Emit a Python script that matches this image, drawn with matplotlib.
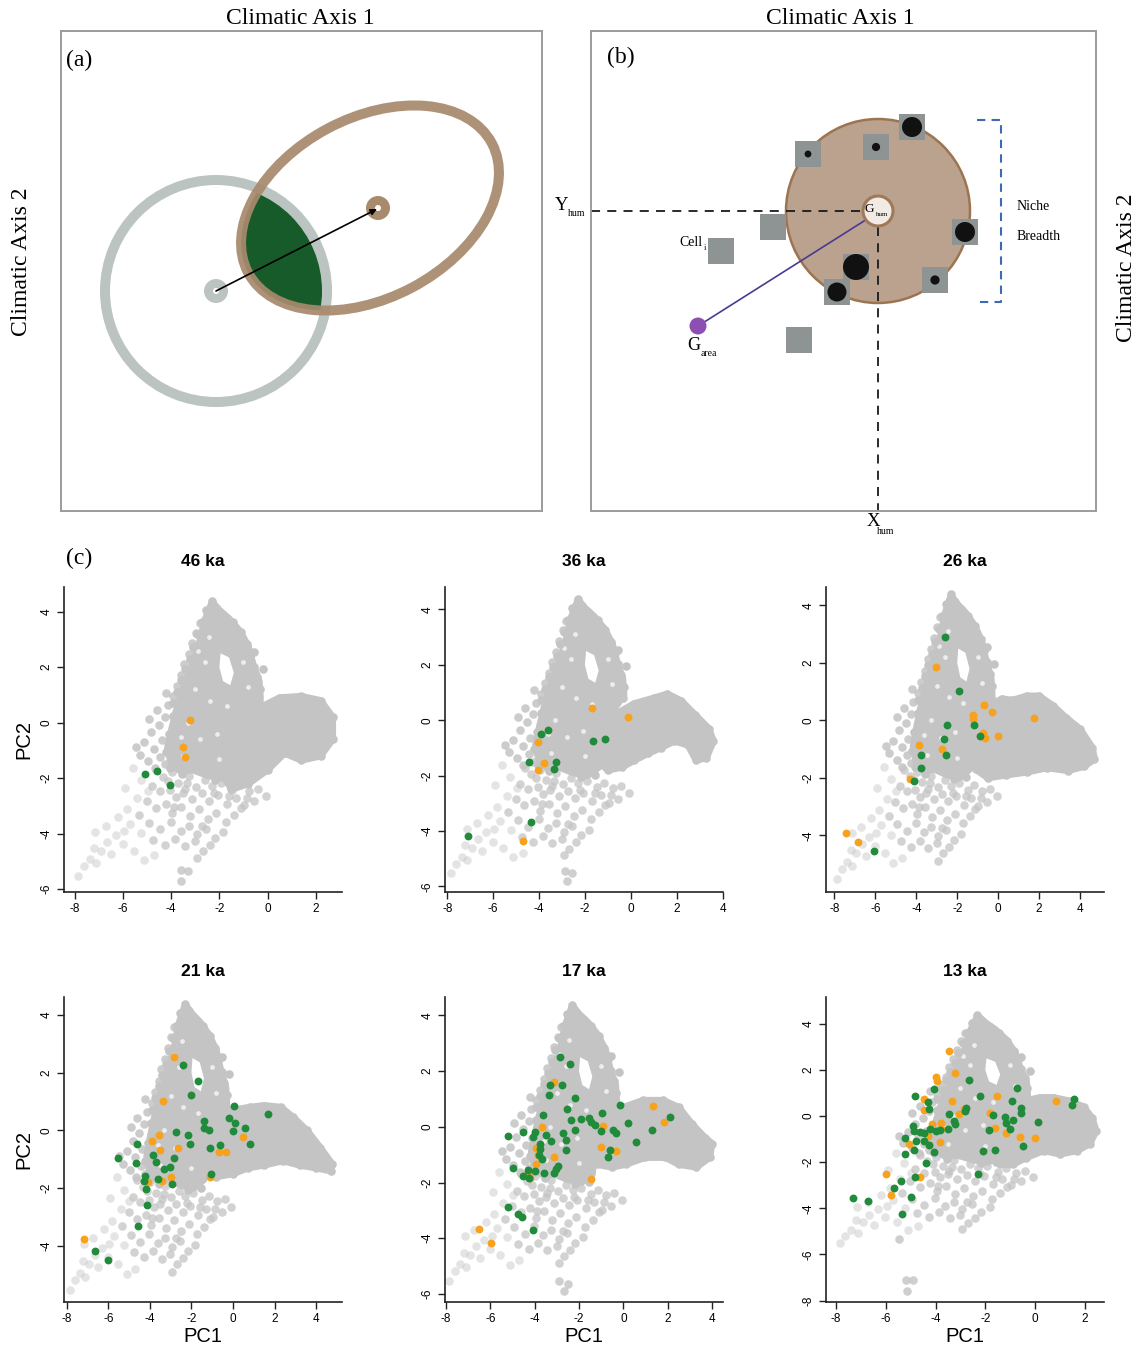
import matplotlib.pyplot as plt
from matplotlib.patches import Circle, Ellipse, Rectangle

plt.rcParams['font.family'] = ['Liberation Sans', 'DejaVu Sans']
plt.rcParams['axes.unicode_minus'] = False

W, H = 1144, 1345  # figure size in pixels

# ---------------- panel (c) data ----------------
titles = ['46 ka', '36 ka', '26 ka', '21 ka', '17 ka', '13 ka']

# dense part of the climate space shared by all slices (upper lobe + centre)
core_outline = [(-2.3, 4.35), (-2.0, 4.05), (-1.6, 3.75), (-1.15, 3.3), (-0.8, 2.75),
                (-0.6, 2.1), (-0.35, 1.5), (-0.3, 0.9), (-0.7, 0.45), (-1.1, -0.1),
                (-1.3, -0.9), (-1.4, -1.7), (-1.9, -2.0), (-2.5, -1.9), (-3.1, -1.7),
                (-3.6, -1.75), (-4.0, -1.5), (-4.15, -0.9), (-4.0, -0.3), (-3.8, 0.4),
                (-3.55, 1.1), (-3.2, 1.9), (-2.85, 2.8), (-2.6, 3.7)]
core_hole = [(-1.95, 2.5), (-1.6, 2.35), (-1.4, 1.8), (-1.55, 1.35), (-1.85, 1.5),
             (-2.0, 2.0)]
# small voids inside the dense part
core_voids = [(-2.45, 3.1), (-2.6, 2.2), (-3.0, 1.2), (-2.4, 0.8), (-3.3, 0.0),
              (-2.8, -0.6), (-3.5, -1.2), (-1.0, 2.2), (-2.0, -1.3), (-0.8, 1.3),
              (-2.1, -0.4), (-1.7, 0.6), (-2.9, 2.6), (-3.6, -0.5)]

# cells on the ragged border of the dense part
edge_cells = [(-2.32, 4.38), (-2.55, 4.05), (-2.12, 4.12), (-1.83, 3.86), (-2.74, 3.62),
              (-1.45, 3.62), (-2.91, 3.18), (-1.12, 3.27), (-3.08, 2.74), (-0.86, 2.84),
              (-3.22, 2.31), (-0.71, 2.42), (-3.41, 1.93), (-0.55, 2.02), (-3.58, 1.55),
              (-0.42, 1.63), (-3.74, 1.12), (-0.31, 1.21), (-3.92, 0.72), (-0.35, 0.82),
              (-0.2, 1.95), (-0.55, 2.55), (-1.95, 3.05), (-1.7, 2.75), (-1.35, 2.55),
              (-2.2, 2.7), (-1.2, 1.25), (-2.18, -2.05), (-1.55, -1.98), (-3.55, -1.85),
              (-4.05, -1.62), (-4.22, -1.05), (-4.1, -0.42), (-3.93, 0.25)]

# cells left of the dense part
mid_cells = [(-4.45, -1.22), (-4.71, -0.93), (-4.38, -0.64), (-4.83, -0.35), (-4.52, -0.08),
             (-4.27, 0.21), (-4.61, 0.44), (-4.15, 0.63), (-3.92, 0.95), (-4.22, 1.08),
             (-3.76, 1.33), (-3.58, 1.71), (-3.45, 2.12), (-3.28, 2.47), (-3.14, 2.86),
             (-2.97, 3.24), (-2.82, 3.58), (-5.12, -0.71), (-5.31, -1.15), (-4.96, -1.38),
             (-5.48, -0.88), (-4.93, 0.12), (-4.25, -1.49), (-4.68, -1.62)]

# sparser cells below the dense part
low_cells = [(-4.62, -1.71), (-4.33, -1.95), (-3.98, -1.78), (-3.71, -2.16), (-3.27, -1.92),
             (-2.96, -2.31), (-2.61, -2.08), (-2.29, -2.27), (-1.93, -2.18), (-1.47, -2.41),
             (-1.16, -2.26), (-0.78, -2.45), (-0.41, -2.38), (-0.08, -2.63), (-4.81, -2.29),
             (-4.47, -2.47), (-4.04, -2.41), (-3.82, -2.66), (-3.44, -2.38), (-3.12, -2.74),
             (-2.74, -2.55), (-2.43, -2.81), (-2.07, -2.62), (-1.69, -2.93), (-1.31, -2.71),
             (-0.97, -2.98), (-0.55, -2.83), (-5.02, -2.83), (-4.64, -3.06), (-4.21, -2.92),
             (-3.95, -3.27), (-3.58, -3.02), (-3.22, -3.36), (-2.86, -3.11), (-2.49, -3.47),
             (-2.13, -3.24), (-1.74, -3.58), (-1.39, -3.33), (-5.35, -3.32), (-4.93, -3.61),
             (-4.46, -3.84), (-4.02, -3.57), (-3.61, -3.89), (-3.26, -3.71), (-2.92, -4.02),
             (-2.55, -3.82), (-2.18, -4.16), (-1.83, -3.95), (-4.76, -4.21), (-4.27, -4.39),
             (-3.84, -4.18), (-3.43, -4.44), (-3.01, -4.27), (-2.68, -4.63), (-2.41, -4.41),
             (-2.92, -4.88), (-3.33, -2.19), (-2.21, -2.52), (-1.58, -2.64), (-0.86, -2.71),
             (-4.12, -2.09), (-3.51, -2.53), (-2.72, -3.73), (-3.88, -3.02), (-1.12, -3.07)]

# lower-left tail
tail_cells = [(-5.72, -3.65), (-5.24, -3.97), (-5.95, -3.92), (-6.31, -4.05), (-6.02, -4.38),
              (-6.66, -4.29), (-6.93, -4.61), (-7.21, -4.52), (-7.38, -4.92), (-7.62, -5.18),
              (-7.85, -5.52), (-7.12, -5.05), (-6.48, -4.72), (-5.55, -4.61), (-5.12, -4.95),
              (-4.71, -4.78), (-6.21, -3.41), (-6.72, -3.72), (-7.15, -3.93), (-5.84, -3.12),
              (-5.41, -2.72), (-4.98, -2.45), (-5.6, -1.62), (-5.9, -2.35), (-5.25, -2.05)]

# dense right-hand lobe of the cloud (outline) for each time slice
lobe_46 = [(-2.2, 0.3), (-1.2, 0.5), (-0.3, 0.55), (0.5, 0.9), (1.4, 0.95), (2.2, 0.8),
           (2.7, 0.2), (2.7, -0.6), (2.2, -1.2), (1.4, -1.35), (0.7, -1.1), (0.0, -1.7),
           (-0.8, -2.2), (-1.5, -2.4), (-1.9, -1.8), (-2.2, -1.0)]
lobe_36 = [(-0.7, 0.2), (0.15, 0.6), (1.0, 0.8), (1.6, 0.95), (2.2, 0.7), (2.8, 0.2),
           (3.4, -0.3), (3.6, -0.75), (3.3, -1.35), (2.85, -1.45), (2.5, -0.9), (1.9, -0.75),
           (1.3, -1.0), (0.75, -1.2), (0.15, -1.45), (-0.4, -1.7), (-1.0, -1.8), (-1.6, -1.35),
           (-1.9, -0.75), (-1.6, -0.25)]
lobe_26 = [(-0.4, 0.55), (0.2, 0.75), (0.7, 0.7), (1.4, 0.85), (2.0, 0.85), (2.7, 0.5),
           (3.3, 0.1), (4.0, -0.3), (4.6, -0.95), (4.7, -1.35), (4.2, -1.6), (3.4, -1.75),
           (2.4, -1.65), (1.4, -1.8), (0.4, -1.9), (-0.5, -2.0), (-1.1, -1.7), (-1.4, -1.0),
           (-1.3, -0.4), (-0.9, 0.0)]
lobe_21 = [(-0.8, 0.45), (0.0, 0.7), (0.8, 0.8), (1.5, 0.86), (2.3, 0.8), (2.9, 0.45),
           (3.55, 0.0), (4.2, -0.6), (4.75, -1.15), (4.7, -1.4), (4.0, -1.3), (3.2, -1.2),
           (2.4, -1.05), (1.5, -1.2), (0.7, -1.3), (0.0, -1.5), (-0.8, -1.6), (-1.6, -1.4),
           (-1.9, -0.7), (-1.6, 0.0)]
lobe_17 = [(-0.8, 0.35), (0.0, 0.7), (0.9, 0.95), (1.8, 0.95), (2.5, 0.7), (3.1, 0.1),
           (3.7, -0.4), (4.0, -0.6), (3.9, -1.1), (3.3, -1.45), (2.5, -1.35), (1.9, -1.1),
           (1.0, -1.1), (0.1, -1.35), (-0.5, -1.45), (-1.2, -1.35), (-1.65, -0.85), (-1.5, -0.15)]
lobe_13 = [(-1.15, 0.4), (-0.45, 0.65), (0.2, 0.8), (0.75, 0.8), (1.4, 0.65), (1.95, 0.4),
           (2.3, -0.1), (2.45, -0.65), (2.2, -1.2), (1.7, -1.5), (1.0, -1.65), (0.35, -1.5),
           (-0.35, -1.8), (-0.9, -2.1), (-1.4, -2.1), (-1.8, -1.5), (-1.95, -0.65), (-1.65, 0.1)]

# isolated background cells
extra_46 = [(-3.6, -5.3), (-3.3, -5.35), (-3.6, -5.7)]
extra_36 = [(-2.85, -5.45), (-2.55, -5.5), (-2.8, -5.8)]
extra_26 = []
extra_21 = []
extra_17 = [(-2.9, -5.55), (-2.5, -5.65), (-2.7, -5.9)]
extra_13 = [(-5.2, -7.1), (-4.9, -7.1), (-5.15, -7.6), (-5.45, -5.35)]

# occurrence points
orange_46 = [(-3.21, 0.08), (-3.52, -0.87), (-3.41, -1.22)]
green_46 = [(-5.10, -1.84), (-4.60, -1.75), (-4.07, -2.25)]

orange_36 = [(-1.71, 0.45), (-0.13, 0.10), (-4.05, -0.79), (-3.79, -1.55), (-4.04, -1.81),
             (-4.71, -4.37)]
green_36 = [(-3.90, -0.48), (-3.60, -0.37), (-1.64, -0.76), (-1.13, -0.66), (-4.44, -1.50),
            (-3.27, -1.49), (-3.33, -1.75), (-4.33, -3.66), (-7.09, -4.17)]

orange_26 = [(-3.04, 1.84), (-0.69, 0.55), (-0.30, 0.30), (-1.25, 0.20), (-1.22, 0.05),
             (1.75, 0.07), (0.0, -0.54), (-0.66, -0.63), (-0.72, -0.45), (-3.89, -0.85),
             (-2.75, -1.0), (-4.31, -2.03), (-7.41, -3.91), (-6.83, -4.23)]
green_26 = [(-2.60, 2.89), (-1.90, 1.02), (-1.17, -0.16), (-2.50, -0.16), (-2.65, -0.64),
            (-0.91, -0.56), (-2.57, -1.21), (-3.78, -1.21), (-3.79, -1.65), (-4.13, -2.12),
            (-6.07, -4.53)]

orange_21 = [(-2.84, 2.55), (-3.35, 1.03), (-3.56, -0.16), (-3.90, -0.37), (-3.49, -0.69),
             (-2.66, -0.60), (-0.69, -0.73), (-0.32, -0.74), (0.48, -0.24), (-1.10, -1.60),
             (-2.98, -1.61), (-3.40, -1.75), (-4.07, -1.77), (-7.17, -3.74)]
green_21 = [(-2.42, 2.25), (-1.70, 1.72), (-2.03, 1.23), (0.04, 0.86), (1.67, 0.56),
            (-0.21, 0.43), (0.08, 0.25), (-1.39, 0.32), (-1.39, 0.08), (-1.18, 0.0),
            (-0.01, -0.02), (0.58, 0.09), (0.81, -0.46), (-0.62, -0.50), (-1.09, -0.61),
            (-2.76, -0.06), (-2.18, -0.15), (-2.07, -0.48), (-4.63, -0.46), (-5.53, -0.95),
            (-4.68, -1.11), (-3.86, -0.84), (-3.72, -1.09), (-2.82, -0.95), (-3.32, -1.34),
            (-3.03, -1.27), (-4.23, -1.56), (-4.30, -1.74), (-3.59, -1.67), (-2.93, -1.84),
            (-4.20, -2.01), (-1.07, -1.50), (-4.15, -2.57), (-4.55, -3.29), (-6.62, -4.18),
            (-5.99, -4.49)]

orange_17 = [(-3.13, 1.60), (-3.67, 0.0), (1.36, 0.74), (1.84, 0.17), (-0.92, 0.04),
             (-3.96, -0.75), (-3.84, -1.0), (-3.15, -1.09), (-3.93, -1.35), (-4.32, -1.65),
             (-4.21, -1.84), (-1.01, -0.73), (-0.35, -0.88), (-1.48, -1.86), (-6.53, -3.66),
             (-5.96, -4.16)]
green_17 = [(-2.85, 2.52), (-2.40, 2.25), (-3.31, 1.49), (-2.79, 1.51), (-3.36, 1.14),
            (-2.16, 1.04), (-0.14, 0.78), (-0.97, 0.51), (-2.56, 0.65), (-3.61, 0.41),
            (-2.34, 0.25), (-1.93, 0.29), (-1.56, 0.32), (-1.44, 0.17), (-1.28, 0.05),
            (-1.0, -0.14), (-2.20, -0.13), (0.19, 0.12), (-0.46, -0.11), (-0.31, -0.22),
            (1.31, -0.10), (2.10, 0.36), (0.56, -0.54), (-5.19, -0.33), (-4.54, -0.17),
            (-3.97, -0.19), (-4.09, -0.38), (-3.49, -0.31), (-3.28, -0.51), (-3.76, -0.61),
            (-3.76, -0.81), (-3.79, -1.03), (-3.67, -1.14), (-2.71, -0.24), (-2.61, -0.48),
            (-2.58, -0.84), (-0.58, -0.85), (-0.70, -1.08), (-4.98, -1.47), (-4.29, -1.55),
            (-3.97, -1.57), (-4.51, -1.77), (-4.27, -1.83), (-3.57, -1.65), (-3.13, -1.65),
            (-3.04, -1.51), (-2.97, -1.39), (-5.22, -2.88), (-4.74, -3.12), (-4.56, -3.25),
            (-4.09, -3.70)]

orange_13 = [(-3.46, 2.80), (-3.20, 1.85), (-3.99, 1.71), (-3.92, 1.52), (-1.54, 0.85),
             (0.84, 0.64), (-3.33, 0.66), (-4.45, 0.74), (-4.45, 0.27), (-2.86, 0.30),
             (-3.05, 0.09), (-1.81, 0.13), (-4.15, -0.36), (-3.77, -0.28), (-3.76, -0.57),
             (-1.61, -0.52), (-1.15, -0.73), (-0.61, -0.89), (0.01, -0.97), (-4.31, -0.86),
             (-5.08, -1.19), (-3.81, -1.12), (-4.25, -1.26), (-6.0, -2.51), (-4.64, -2.63),
             (-5.78, -3.42)]
green_13 = [(-2.64, 1.55), (-4.07, 1.16), (-4.82, 0.87), (-2.22, 0.87), (-0.73, 1.20),
            (1.56, 0.72), (1.50, 0.49), (-0.93, 0.64), (-0.56, 0.37), (-0.57, 0.13),
            (0.13, -0.26), (-4.32, 0.59), (-4.25, 0.30), (-2.78, 0.37), (-2.80, 0.22),
            (-3.44, 0.07), (-3.24, -0.22), (-3.21, -0.34), (-3.49, -0.57), (-3.80, -0.60),
            (-3.99, -0.64), (-4.22, -0.57), (-4.89, -0.45), (-4.85, -0.64), (-4.64, -0.71),
            (-4.47, -0.74), (-5.21, -0.96), (-4.77, -1.06), (-4.45, -1.09), (-4.86, -1.47),
            (-4.25, -1.25), (-4.08, -1.58), (-5.23, -1.64), (-4.38, -2.02), (-1.84, -0.61),
            (-1.22, -0.05), (-1.15, -0.31), (-1.01, -0.54), (-0.87, -0.16), (-1.71, 0.04),
            (-2.08, -1.52), (-1.59, -1.49), (-0.49, -1.29), (-2.28, -2.52), (-4.84, -2.63),
            (-5.38, -2.83), (-5.65, -3.12), (-5.0, -3.52), (-7.30, -3.57), (-6.72, -3.70),
            (-5.33, -4.26)]

xlims = [(-8.45, 3.09), (-8.1, 4.02), (-8.41, 5.17), (-8.13, 5.24), (-8.05, 4.5), (-8.4, 2.77)]
ylims = [(-6.1, 4.89), (-6.2, 4.81), (-5.97, 4.64), (-5.93, 4.61), (-6.29, 4.66), (-8.06, 5.16)]
xticks = [[-8, -6, -4, -2, 0, 2], [-8, -6, -4, -2, 0, 2, 4], [-8, -6, -4, -2, 0, 2, 4],
          [-8, -6, -4, -2, 0, 2, 4], [-8, -6, -4, -2, 0, 2, 4], [-8, -6, -4, -2, 0, 2]]
yticks = [[-6, -4, -2, 0, 2, 4], [-6, -4, -2, 0, 2, 4], [-4, -2, 0, 2, 4],
          [-4, -2, 0, 2, 4], [-6, -4, -2, 0, 2, 4], [-8, -6, -4, -2, 0, 2, 4]]

lobes = [lobe_46, lobe_36, lobe_26, lobe_21, lobe_17, lobe_13]
extras = [extra_46, extra_36, extra_26, extra_21, extra_17, extra_13]
oranges = [orange_46, orange_36, orange_26, orange_21, orange_17, orange_13]
greens = [green_46, green_36, green_26, green_21, green_17, green_13]

GRAY = '#c4c4c4'
ORANGE = '#f7a11c'
GREEN = '#1f8b3b'

fig = plt.figure(figsize=(W / 100, H / 100), dpi=100)


def fx(px):
    return px / W


def fy(py):
    return 1 - py / H


serif = 'Liberation Serif'

# ---------------- panel (a) ----------------
ax_a = fig.add_axes([fx(61), fy(511), 481 / W, 480 / H])
ax_a.set_xlim(61, 542)
ax_a.set_ylim(511, 31)
ax_a.set_xticks([])
ax_a.set_yticks([])
for s in ax_a.spines.values():
    s.set_color('#9c9c9c')
    s.set_linewidth(1.4)

ring_gray = '#bcc4c2'
ring_brown = '#a88a6d'
g_c, g_r = (216, 291), 111
e_c, e_w, e_h, e_ang = (370, 208), 276, 180, -28
b_c = (378, 208)

green_fill = Ellipse(e_c, e_w, e_h, angle=e_ang, fc='#175b2b', ec='none', zorder=1)
ax_a.add_patch(green_fill)
green_fill.set_clip_path(Circle(g_c, g_r, transform=ax_a.transData))
ax_a.add_patch(Circle(g_c, g_r, fill=False, ec=ring_gray, lw=7.2, zorder=2))
ax_a.add_patch(Ellipse(e_c, e_w, e_h, angle=e_ang, fill=False, ec=ring_brown, lw=7.2,
                       alpha=0.93, zorder=3))
ax_a.add_patch(Circle(g_c, 12, fc=ring_gray, ec='none', zorder=4))
ax_a.add_patch(Circle(g_c, 3, fc='white', ec='none', zorder=5))
ax_a.add_patch(Circle(b_c, 12, fc=ring_brown, ec='none', zorder=4))
ax_a.add_patch(Circle(b_c, 3, fc='white', ec='none', zorder=5))
ax_a.annotate('', xy=(b_c[0] - 1, b_c[1] + 1), xytext=g_c,
              arrowprops=dict(arrowstyle='-|>', color='black', lw=1.2, mutation_scale=9,
                              shrinkA=0, shrinkB=0), zorder=6)
ax_a.text(66, 60, '(a)', family=serif, fontsize=17, va='center', ha='left')

# ---------------- panel (b) ----------------
ax_b = fig.add_axes([fx(591), fy(511), 505 / W, 480 / H])
ax_b.set_xlim(591, 1096)
ax_b.set_ylim(511, 31)
ax_b.set_xticks([])
ax_b.set_yticks([])
for s in ax_b.spines.values():
    s.set_color('#9c9c9c')
    s.set_linewidth(1.4)

hum_c = (878, 211)
ax_b.add_patch(Circle(hum_c, 92, fc='#baa28e', ec='#9c7450', lw=1.8, zorder=1))
ax_b.plot([591, 862], [hum_c[1], hum_c[1]], ls=(0, (5, 4)), color='#1a1a1a', lw=1.3, zorder=2)
ax_b.plot([hum_c[0], hum_c[0]], [227, 511], ls=(0, (5, 4)), color='#1a1a1a', lw=1.3, zorder=2)

cell_x = [808, 876, 912, 773, 721, 965, 856, 837, 935, 799]
cell_y = [154, 147, 127, 227, 251, 232, 267, 292, 280, 340]
occ_r = [3.4, 4.1, 10, 0, 0, 10, 13, 9.5, 4.6, 0]
for cx, cy, r in zip(cell_x, cell_y, occ_r):
    ax_b.add_patch(Rectangle((cx - 13, cy - 13), 26, 26, fc='#8e9393', ec='none', zorder=3))
    if r > 0:
        ax_b.add_patch(Circle((cx, cy), r, fc='#111111', ec='none', zorder=4))

ax_b.add_patch(Circle(hum_c, 15, fc='#f1eae5', ec='#a07a58', lw=2.2, zorder=5))
garea = (698, 326)
ax_b.plot([garea[0], 864], [garea[1], 221], color='#4a3a8f', lw=1.2, zorder=6)
ax_b.add_patch(Circle(garea, 8.5, fc='#8e4fb5', ec='none', zorder=7))
ax_b.plot([977, 1001, 1001, 977], [120, 120, 302, 302], ls=(0, (4, 3)), color='#3f68b5',
          lw=1.5, zorder=2)

ax_b.text(1017, 206, 'Niche', family=serif, fontsize=10, va='center', ha='left')
ax_b.text(1017, 236, 'Breadth', family=serif, fontsize=10, va='center', ha='left')
ax_b.text(869, 209, 'G', family=serif, fontsize=9.5, va='center', ha='center', zorder=8)
ax_b.text(876, 214, 'hum', family=serif, fontsize=5, va='center', ha='left', zorder=8)
ax_b.text(703, 243, 'Cell', family=serif, fontsize=10, va='center', ha='right')
ax_b.text(704, 248, 'i', family=serif, fontsize=6, va='center', ha='left')
ax_b.text(694, 345, 'G', family=serif, fontsize=13, va='center', ha='center')
ax_b.text(701, 353, 'area', family=serif, fontsize=7, va='center', ha='left')
ax_b.text(568, 205, 'Y', family=serif, fontsize=13.5, va='center', ha='right', clip_on=False)
ax_b.text(568, 213, 'hum', family=serif, fontsize=7, va='center', ha='left', clip_on=False)
ax_b.text(873, 521, 'X', family=serif, fontsize=13.5, va='center', ha='center', clip_on=False)
ax_b.text(877, 532, 'hum', family=serif, fontsize=7, va='center', ha='left', clip_on=False)
ax_b.text(607, 57, '(b)', family=serif, fontsize=17, va='center', ha='left')

fig.text(fx(300), fy(19), 'Climatic Axis 1', family=serif, fontsize=17, ha='center', va='center')
fig.text(fx(840), fy(19), 'Climatic Axis 1', family=serif, fontsize=17, ha='center', va='center')
fig.text(fx(22), fy(262), 'Climatic Axis 2', family=serif, fontsize=17, ha='center', va='center',
         rotation=90)
fig.text(fx(1127), fy(268), 'Climatic Axis 2', family=serif, fontsize=17, ha='center',
         va='center', rotation=90)
fig.text(fx(66), fy(558), '(c)', family=serif, fontsize=17, ha='left', va='center')

# ---------------- panel (c) ----------------
col_left = [64, 445, 826]
row_top = [587, 997]
ax_w, ax_h = 278, 305

corex, corey = zip(*core_outline)
holex, holey = zip(*core_hole)
voidx, voidy = zip(*core_voids)
edgex, edgey = zip(*edge_cells)
midx, midy = zip(*mid_cells)
lowx, lowy = zip(*low_cells)
tailx, taily = zip(*tail_cells)

for i, title in enumerate(titles):
    r, c = divmod(i, 3)
    left, top = col_left[c], row_top[r]
    ax = fig.add_axes([fx(left), fy(top + ax_h), ax_w / W, ax_h / H])

    # background climate space
    ax.fill(corex, corey, color=GRAY, lw=5, joinstyle='round', zorder=1)
    lx, ly = zip(*lobes[i])
    ax.fill(lx, ly, color=GRAY, lw=5, joinstyle='round', zorder=1)
    ax.fill(holex, holey, color='white', lw=0, zorder=1.5)
    ax.scatter(voidx, voidy, s=12, c='#ededed', lw=0, zorder=1.6)
    ax.scatter(edgex, edgey, s=38, c=GRAY, lw=0, zorder=2)
    ax.scatter(lx, ly, s=38, c=GRAY, lw=0, zorder=2)
    ax.scatter(midx, midy, s=38, c=GRAY, alpha=0.85, lw=0, zorder=2)
    ax.scatter(lowx, lowy, s=38, c=GRAY, alpha=0.75, lw=0, zorder=2)
    ax.scatter(tailx, taily, s=38, c=GRAY, alpha=0.45, lw=0, zorder=2)
    if extras[i]:
        ex, ey = zip(*extras[i])
        ax.scatter(ex, ey, s=38, c=GRAY, alpha=0.8, lw=0, zorder=2)

    ox, oy = zip(*oranges[i])
    ax.scatter(ox, oy, s=32, c=ORANGE, lw=0, zorder=3)
    gx, gy = zip(*greens[i])
    ax.scatter(gx, gy, s=32, c=GREEN, lw=0, zorder=4)

    ax.set_xlim(*xlims[i])
    ax.set_ylim(*ylims[i])
    ax.set_xticks(xticks[i])
    ax.set_yticks(yticks[i])
    for side in ('top', 'right'):
        ax.spines[side].set_visible(False)
    for side in ('left', 'bottom'):
        ax.spines[side].set_linewidth(1.2)
        ax.spines[side].set_color('#222222')
    ax.tick_params(length=5, width=1, labelsize=8.5, pad=3, color='#222222')
    for lab in ax.get_yticklabels():
        lab.set_rotation(90)
        lab.set_va('center')

    fig.text(fx(left + ax_w / 2), fy(top - 26), title, fontsize=12.5, fontweight='bold',
             ha='center', va='center')
    if r == 1:
        fig.text(fx(left + ax_w / 2), fy(1336), 'PC1', fontsize=14.5, ha='center', va='center')
    if c == 0:
        fig.text(fx(24), fy(top + ax_h / 2), 'PC2', fontsize=14.5, ha='center', va='center',
                 rotation=90)

fig.savefig('out.png', dpi=100)
